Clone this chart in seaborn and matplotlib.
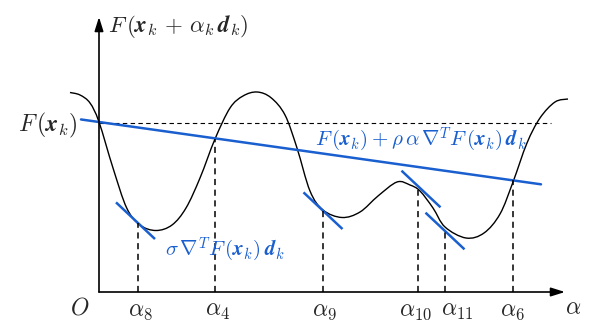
import numpy as np
import pandas as pd
import matplotlib
matplotlib.use("Agg")
import matplotlib.pyplot as plt
from matplotlib.path import Path
from matplotlib.patches import PathPatch
import seaborn as sns

curve_alpha = [-29, -19, -9, 0, 14, 27.7, 41, 57, 73, 87, 101, 116, 131, 144, 158, 172,
               186, 198, 211, 224, 243, 261, 279, 298, 311, 321, 334, 346, 367,
               385, 401, 414, 428, 441, 456, 469]
curve_F = [199.5, 197, 189, 170, 124, 84, 67, 61.5, 67, 84, 114, 153, 184, 196, 200, 194.3,
           177, 144, 101, 82, 74.5, 80, 96, 110, 107, 101, 84, 65, 54,
           59, 78, 110, 149, 174, 190, 193]

F0 = 170                 # F(x_k) where the Armijo line starts
level_F = 169            # dashed level of F(x_k)
armijo_slope = -0.141    # rho * grad^T F d_k (picture units)
armijo_range = [-18, 442]
level_range = [0, 452]

tangent_alpha = [36.5, 224, 322, 346]     # centres of the sigma-slope segments
tangent_F = [71.3, 81.3, 103, 61]
tangent_slope = -0.94
tangent_half = 19.5

trial_names = [r"$\alpha_8$", r"$\alpha_4$", r"$\alpha_9$", r"$\alpha_{10}$", r"$\alpha_{11}$", r"$\alpha_6$"]
trial_alpha = [39, 116, 224, 319, 346, 414]
trial_top = [69, 153, 82, 102, 62, 112]
trial_label_x = [41, 118, 225, 316, 358, 413]

axis_end_alpha = 466
axis_end_F = 275

BLUE = "#1a5fcf"

sns.set_theme(style="white")
plt.rcParams["mathtext.fontset"] = "cm"
plt.rcParams["font.family"] = ["DejaVu Serif"]

fig = plt.figure(figsize=(5.91, 3.30), dpi=100)
ax = fig.add_axes([0, 0, 1, 1])
ax.set_xlim(-99, 492)
ax.set_ylim(-38, 292)
ax.axis("off")

# axes with arrows
arrow_kw = dict(arrowstyle="-|>,head_length=0.7,head_width=0.22", lw=1.2, color="black",
                shrinkA=0, shrinkB=0)
ax.annotate("", xy=(axis_end_alpha, 0), xytext=(0, 0), arrowprops=arrow_kw)
ax.annotate("", xy=(0, axis_end_F), xytext=(0, 0), arrowprops=arrow_kw)

# F(x_k) level
ax.plot(level_range, [level_F, level_F], color="black", lw=0.8, ls=(0, (4, 3)))

# smooth curve through the read points (Catmull-Rom rendered as cubic Bezier path)
P = np.column_stack([curve_alpha, curve_F]).astype(float)
Pext = np.vstack([P[0], P, P[-1]])
verts = [P[0]]
codes = [Path.MOVETO]
for i in range(len(P) - 1):
    p0, p1, p2, p3 = Pext[i], Pext[i + 1], Pext[i + 2], Pext[i + 3]
    verts += [p1 + (p2 - p0) / 6.0, p2 - (p3 - p1) / 6.0, p2]
    codes += [Path.CURVE4] * 3
ax.add_patch(PathPatch(Path(verts, codes), facecolor="none", edgecolor="black", lw=1.0))

# Armijo line
la = np.array(armijo_range, dtype=float)
arm = pd.DataFrame({"alpha": la, "F": F0 + armijo_slope * la})
sns.lineplot(data=arm, x="alpha", y="F", ax=ax, color=BLUE, lw=1.8)

# tangent (sigma) segments
for a, f in zip(tangent_alpha, tangent_F):
    xs = np.array([a - tangent_half, a + tangent_half])
    ax.plot(xs, f + tangent_slope * (xs - a), color=BLUE, lw=1.8, solid_capstyle="butt")

# trial points
for a, top, name, lx in zip(trial_alpha, trial_top, trial_names, trial_label_x):
    ax.plot([a, a], [0, top], color="black", lw=1.1, ls=(0, (4, 3)))
    ax.text(lx, -19, name, ha="center", va="center", fontsize=17)

ax.text(-19, -16, r"$O$", ha="center", va="center", fontsize=17)
ax.text(474, -16, r"$\alpha$", ha="center", va="center", fontsize=17)

ax.text(9, 265, r"$F\,(\mathbfit{x}_k\,+\,\alpha_k\,\mathbfit{d}_k)$", ha="left", va="center", fontsize=16.5)
ax.text(-21, 167, r"$F\,(\mathbfit{x}_k)$", ha="right", va="center", fontsize=17)
ax.text(216, 152, r"$F\,(\mathbfit{x}_k)+\rho\,\alpha\,\nabla^T F\,(\mathbfit{x}_k)\,\mathbfit{d}_k$",
        ha="left", va="center", fontsize=15, color=BLUE)
ax.text(66, 42, r"$\sigma\,\nabla^T F\,(\mathbfit{x}_k)\,\mathbfit{d}_k$",
        ha="left", va="center", fontsize=15, color=BLUE)

fig.savefig("out.png", dpi=100)
